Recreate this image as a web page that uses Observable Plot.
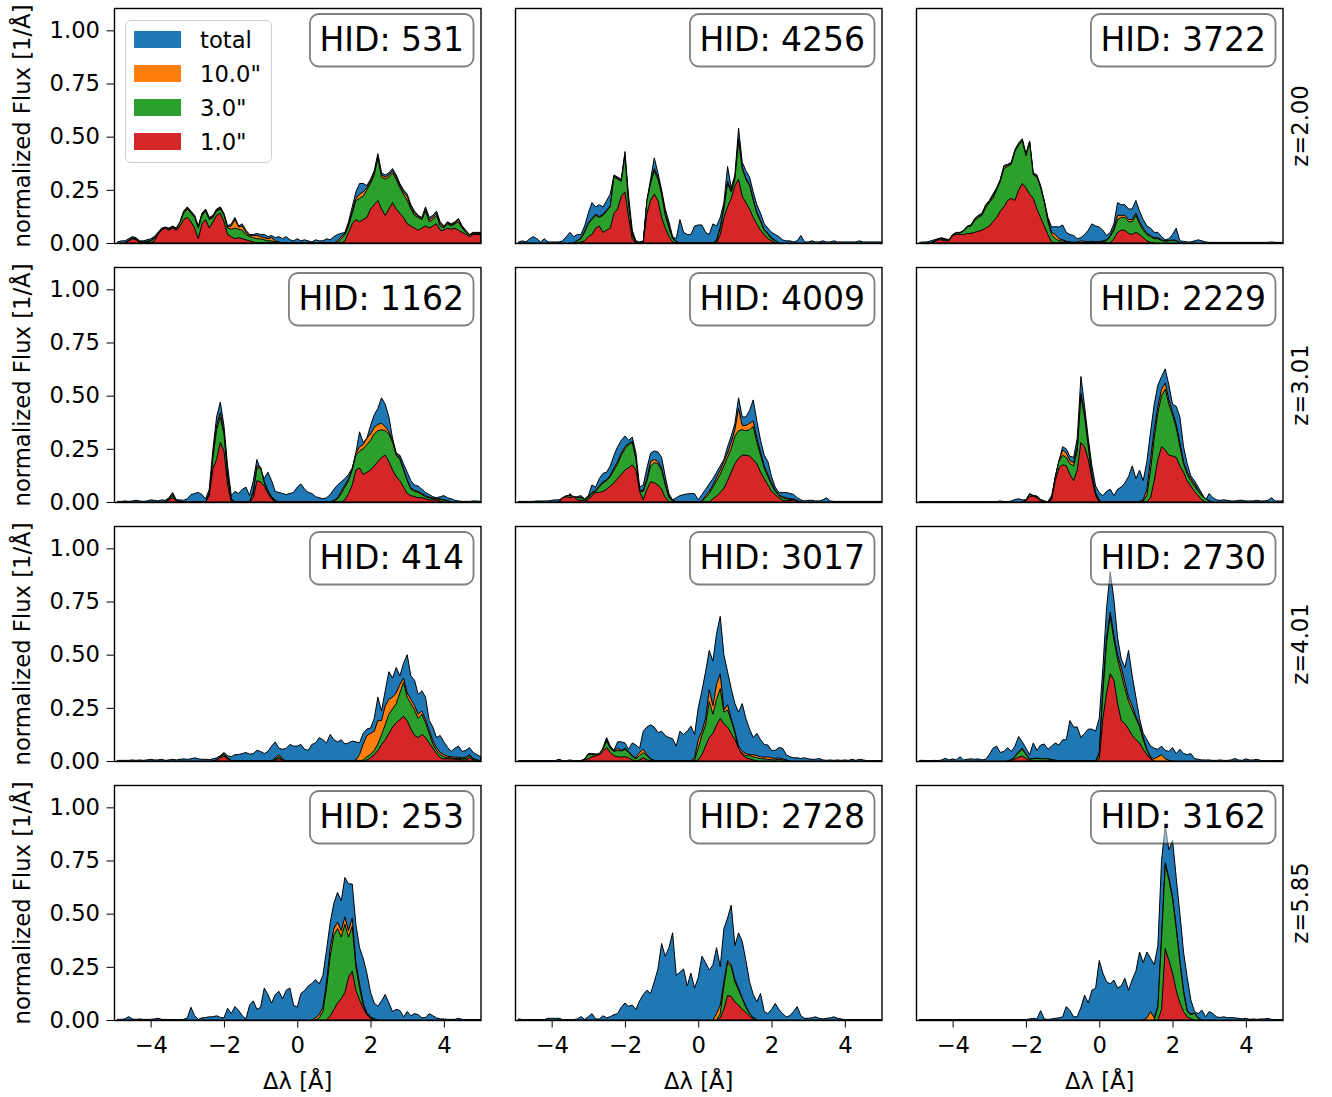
<!DOCTYPE html>
<html>
<head>
<meta charset="utf-8">
<script src="https://cdn.jsdelivr.net/npm/d3@7"></script>
<script src="https://cdn.jsdelivr.net/npm/@observablehq/plot@0.6"></script>
<style>
  html, body { margin: 0; padding: 0; background: #fff; }
  #fig { position: relative; width: 1332px; height: 1097px; overflow: hidden; font-family: "DejaVu Sans", sans-serif; }
  #fig svg { position: absolute; overflow: visible; }
  #legend { position: absolute; left: 125px; top: 20px; width: 147px; height: 143px; box-sizing: border-box;
            border: 1.5px solid #cfcfcf; border-radius: 6px; background: rgba(255,255,255,0.8); z-index: 5; }
  #legend .sw { position: absolute; left: 8px; width: 47px; height: 17px; }
  #legend .lb { position: absolute; left: 74px; font-size: 22.7px; line-height: 22.7px; color: #000; white-space: nowrap; }
</style>
</head>
<body>
<div id="fig"></div>
<script>
// ---------- chart constants ----------
const HIDS = [531, 4256, 3722, 1162, 4009, 2229, 414, 3017, 2730, 253, 2728, 3162];
const REDSHIFTS = ["z=2.00", "z=3.01", "z=4.01", "z=5.85"];
const APERTURES = ["total", "10.0\"", "3.0\"", "1.0\""];
const COLORS = ["#1f77b4", "#ff7f0e", "#2ca02c", "#d62728"];
const X_TICKS = [-4, -2, 0, 2, 4];
const Y_TICKS = [0, 0.25, 0.5, 0.75, 1.0];
const STEP = 0.1; // spectral sampling of every series, Å
// Each series = list of segments {from: first Δλ, y: flux values every STEP Å}; outside segments flux is 0.

// ---- HID 531 ----
const t531 = [{from: -4.9, y: [
 .005,.01,.01,.02,.03,.025,.01,.01,.015,.02,
 .03,.05,.07,.075,.07,.08,.07,.1,.15,.17,
 .15,.13,.08,.14,.16,.12,.13,.16,.17,.14,
 .08,.09,.12,.08,.09,.06,.04,.04,.045,.04,
 .04,.03,.035,.025,.03,.02,.03,.015,.01,.02,
 .01,.015,.01,.005,.015,.01,.01,.02,.015,.03,
 .04,.045,.05,.1,.17,.24,.28,.28,.27,.3,
 .34,.42,.33,.32,.33,.35,.32,.28,.25,.23,
 .18,.15,.13,.12,.17,.12,.13,.15,.1,.08,
 .1,.09,.1,.115,.08,.06,.04,.05,.05,.05]}];
const o531 = [{from: -4.7, y: [
 0,.014,.024,.02,.007,.004,.007,.012,.025,.047,.067,.072,.067,.077,.067,.097,.145,.165,.145,.125,
 .075,.135,.155,.115,.125,.155,.165,.135,.075,.08,.11,.075,.08,.05,.035,.035,.035,.03,.025,.02,
 .025,.01,.005,0]},
 {from: 1.0, y: [
 0,.01,.03,.045,.09,.15,.21,.23,.24,.26,.29,.33,.41,.32,.31,.32,.34,.31,.27,.24,
 .22,.17,.14,.125,.115,.16,.11,.12,.14,.09,.075,.095,.085,.095,.11,.075,.055,.038,.048,.048,.048]}];
const g531 = [{from: -4.7, y: [
 0,.012,.022,.018,.006,.003,.005,.01,.02,.045,.065,.07,.065,.075,.065,.095,.14,.16,.14,.12,
 .07,.13,.15,.11,.12,.15,.16,.13,.07,.065,.07,.065,.06,.04,.03,.025,.02,.02,.015,.01,
 .01,.005,0]},
 {from: 1.1, y: [
 0,.02,.04,.08,.14,.2,.21,.22,.25,.28,.32,.4,.31,.3,.31,.33,.3,.26,.23,.2,
 .16,.13,.12,.11,.15,.1,.11,.13,.08,.07,.09,.08,.09,.1,.07,.05,.035,.045,.045,.045]}];
const r531 = [{from: -4.7, y: [
 0,.01,.02,.015,.005,0,0,0,.01,.04,.06,.07,.06,.07,.06,.08,.11,.12,.1,.07,
 .02,.09,.11,.07,.1,.13,.14,.1,.04,.03,.02,.025,.02,.015,.01,.005,0]},
 {from: 1.2, y: [
 0,.01,.05,.09,.11,.1,.11,.12,.16,.18,.2,.16,.13,.16,.19,.16,.14,.12,.09,.08,
 .07,.06,.07,.08,.07,.08,.09,.06,.06,.07,.065,.07,.06,.05,.04,.03,.04,.04,.04]}];

// ---- HID 4256 ----
const t4256 = [{from: -4.9, y: [
 .005,.01,.005,.02,.03,.02,.005,.02,.005,.005,
 .005,.005,.01,.03,.05,.03,.04,.04,.08,.14,
 .19,.17,.18,.17,.2,.23,.32,.31,.3,.43,
 .22,.06,.01,.005,.01,.2,.3,.4,.33,.25,
 .16,.1,.03,.02,.11,.05,.04,.04,.08,.085,
 .085,.05,.04,.09,.08,.12,.19,.36,.26,.32,
 .54,.38,.34,.31,.24,.18,.14,.09,.07,.05,
 .04,.03,.015,.01,.01,.005,.01,.035,.005,.005,
 .01,.005,.005,.01,.005,.005,.01,.005,.005,.005,
 .005,.005,.005,.01,.005,.005,.005,.005,.005,.005]}];
const o4256 = [
 {from: -3.4, y: [0,.012,.025,.055,.095,.115,.135,.125,.135,.155,.175,.315,.305,.295,.415,.19,.045,0]},
 {from: -1.5, y: [0,.2,.285,.35,.31,.24,.14,.08,.025,.008,0]},
 {from: 0.4, y: [0,.015,.075,.165,.29,.245,.305,.49,.355,.305,.275,.205,.145,.105,.065,.045,.025,.012,0]}];
const g4256 = [
 {from: -3.4, y: [0,.01,.02,.05,.09,.11,.13,.12,.13,.15,.17,.31,.3,.29,.41,.18,.04,0]},
 {from: -1.5, y: [0,.2,.28,.34,.3,.23,.13,.07,.02,.005,0]},
 {from: 0.4, y: [0,.01,.07,.16,.28,.24,.3,.48,.35,.3,.27,.2,.14,.1,.06,.04,.02,.01,0]}];
const r4256 = [
 {from: -3.3, y: [0,.005,.01,.03,.04,.07,.08,.05,.06,.07,.14,.16,.22,.24,.12,.02,0]},
 {from: -1.5, y: [0,.14,.2,.23,.2,.12,.07,.03,.005,0]},
 {from: 0.5, y: [0,.04,.12,.17,.21,.27,.3,.22,.19,.16,.12,.09,.06,.04,.02,.01,0]}];

// ---- HID 3722 ----
const t3722 = [{from: -4.9, y: [
 .003,.005,.005,.01,.015,.02,.025,.02,.015,.04,
 .05,.05,.06,.08,.085,.115,.13,.14,.18,.2,
 .23,.26,.3,.365,.37,.38,.44,.47,.49,.42,
 .48,.33,.32,.27,.2,.12,.075,.077,.075,.085,
 .05,.04,.035,.02,.025,.04,.06,.09,.08,.075,
 .06,.035,.05,.09,.19,.18,.18,.16,.16,.2,
 .15,.11,.08,.07,.05,.05,.03,.015,.02,.04,
 .07,.01,.008,.005,.005,.01,.015,.01,.005,.003,
 .003,.003,.003,.003,.003,.003,.003,.003,.003,.003,
 .003,.003,.003,.003,.003,.003,.005,.003,.003,.003]}];
const o3722 = [{from: -4.6, y: [
 0,.008,.018,.022,.017,.013,.039,.048,.048,.057,.077,.082,.11,.125,.135,.175,.195,.22,.255,.295,
 .36,.365,.375,.435,.465,.485,.415,.475,.325,.315,.265,.195,.11,.05,.04,.02,.015,.008,.005,.003,
 .005,.01,.008,.005,.008,.006,.006,.01,.015,.035,.07,.13,.13,.13,.11,.11,.14,.1,.07,.045,
 .035,.025,.025,.015,.01,.012,.015,.012,0]}];
const g3722 = [{from: -4.6, y: [
 0,.008,.018,.02,.015,.012,.038,.047,.047,.055,.075,.08,.105,.12,.13,.165,.19,.21,.25,.29,
 .35,.36,.37,.43,.46,.48,.41,.47,.32,.31,.26,.19,.1,.04,.02,.01,.01,.005,.003,0,
 0,0,0,.003,.005,.005,.005,.008,.01,.03,.06,.11,.12,.12,.1,.1,.13,.09,.06,.04,
 .03,.02,.02,.012,.008,.01,.012,.01,0]}];
const r3722 = [
 {from: -4.6, y: [0,.005,.015,.015,.01,.01,.035,.04,.04,.04,.045,.045,.05,.055,.06,.07,.08,.1,.12,.15,
  .17,.2,.21,.2,.25,.28,.26,.23,.21,.16,.12,.08,.04,.005,0]},
 {from: 0.3, y: [0,.02,.05,.06,.06,.045,.04,.05,.04,.025,.01,.003,0]}];

// ---- HID 1162 ----
const t1162 = [{from: -4.9, y: [
 .003,.003,.005,.003,.005,.008,.005,.003,.005,.01,
 .008,.005,.01,.008,.02,.045,.01,.01,.008,.015,
 .035,.04,.045,.035,.015,.06,.25,.4,.47,.36,
 .17,.03,.05,.04,.06,.07,.03,.1,.2,.15,
 .11,.14,.1,.05,.045,.04,.035,.04,.045,.07,
 .085,.06,.045,.04,.025,.02,.015,.02,.035,.06,
 .08,.095,.11,.13,.16,.23,.33,.28,.3,.36,
 .41,.44,.49,.46,.4,.3,.23,.22,.18,.14,
 .1,.08,.075,.06,.045,.035,.025,.02,.025,.03,
 .02,.015,.008,.005,.003,.003,.003,.005,.005,.003]}];
const o1162 = [
 {from: -3.6, y: [0,.016,.035,.009,0]},
 {from: -2.5, y: [0,.045,.22,.36,.42,.33,.13,.015,0]},
 {from: -1.3, y: [0,.05,.17,.165,.095,.055,.025,.008,0]},
 {from: 0.9, y: [0,.008,.02,.05,.08,.11,.155,.23,.26,.27,.3,.32,.35,.365,.37,.355,.33,.29,.23,.205,
  .155,.105,.065,.055,.05,.04,.03,.022,.018,.017,.014,.012,.006,0]}];
const g1162 = [
 {from: -3.6, y: [0,.015,.03,.008,0]},
 {from: -2.5, y: [0,.04,.21,.34,.4,.32,.12,.01,0]},
 {from: -1.3, y: [0,.04,.16,.16,.09,.05,.02,.005,0]},
 {from: 0.9, y: [0,.005,.015,.04,.07,.1,.15,.22,.24,.25,.27,.29,.32,.335,.34,.335,.32,.28,.22,.2,
  .15,.1,.06,.05,.045,.035,.025,.02,.015,.015,.012,.01,.005,0]}];
const r1162 = [
 {from: -3.6, y: [0,.01,.02,.005,0]},
 {from: -2.5, y: [0,.03,.16,.2,.28,.24,.08,0]},
 {from: -1.3, y: [0,.02,.1,.095,.075,.04,.015,0]},
 {from: 1.2, y: [0,.01,.04,.08,.15,.16,.13,.14,.15,.17,.19,.21,.22,.19,.15,.12,.1,.07,.04,.03,
  .025,.02,.02,.015,.01,.01,.01,.005,0]}];

// ---- HID 4009 ----
const t4009 = [{from: -4.9, y: [
 .003,.003,.003,.003,.003,.005,.005,.005,.005,.008,
 .01,.01,.02,.01,.04,.02,.025,.03,.015,.03,
 .08,.07,.11,.135,.14,.17,.22,.26,.29,.31,
 .29,.305,.23,.07,.08,.16,.23,.24,.235,.21,
 .12,.04,.01,.02,.03,.035,.038,.04,.039,.01,
 .035,.06,.085,.11,.14,.17,.2,.26,.31,.37,
 .49,.4,.4,.43,.48,.38,.29,.22,.19,.12,
 .07,.045,.044,.045,.04,.036,.02,.01,.005,.008,
 .008,.005,.005,.01,.02,.005,.003,.003,.003,.003,
 .003,.003,.003,.003,.003,.003,.003,.003,.003,.003]}];
const o4009 = [
 {from: -3.8, y: [0,.02,.03,.032,.026,.022,.022,.012,.022,.045,.055,.075,.095,.105,.125,.16,.19,.23,.26,.275,
  .285,.205,.055,.055,.11,.19,.2,.19,.16,.085,.025,.008,.003,0]},
 {from: 0.0, y: [0,.005,.03,.05,.08,.115,.15,.19,.23,.28,.34,.44,.36,.36,.37,.38,.3,.235,.17,.13,
  .09,.055,.035,.025,.02,.015,.014,.006,0]}];
const g4009 = [
 {from: -3.8, y: [0,.02,.028,.03,.025,.02,.02,.01,.02,.04,.05,.07,.09,.1,.12,.15,.18,.22,.25,.27,
  .28,.2,.05,.05,.1,.17,.185,.18,.15,.08,.02,.005,0]},
 {from: 0.0, y: [0,.003,.02,.04,.07,.1,.13,.17,.21,.25,.31,.335,.34,.335,.34,.355,.28,.22,.16,.12,
  .08,.05,.03,.02,.015,.012,.012,.005,0]}];
const r4009 = [
 {from: -3.8, y: [0,.02,.025,.02,.025,.01,.008,.005,.01,.03,.045,.045,.05,.06,.075,.09,.11,.13,.15,.16,
  .175,.15,.05,.01,.06,.095,.09,.08,.06,.02,.003,0]},
 {from: 0.3, y: [0,.015,.028,.045,.065,.1,.14,.18,.205,.22,.22,.216,.2,.18,.14,.11,.08,.05,.035,.02,
  .008,.005,.008,.01,.003,0]}];

// ---- HID 2229 ----
const t2229 = [{from: -4.9, y: [
 .002,.002,.002,.002,.002,.002,.002,.002,.002,.002,
 .002,.002,.002,.002,.002,.002,.002,.002,.002,.002,
 .002,.002,.005,.002,.002,.005,.012,.015,.01,.01,
 .04,.03,.028,.012,.005,.002,.03,.11,.19,.26,
 .25,.215,.21,.3,.59,.45,.3,.17,.075,.044,
 .03,.05,.06,.03,.06,.07,.09,.12,.17,.11,
 .15,.1,.19,.33,.46,.55,.59,.626,.55,.46,
 .45,.4,.26,.18,.122,.1,.07,.04,.01,.04,
 .02,.01,.008,.01,.008,.005,.005,.008,.008,.005,
 .005,.005,.008,.005,.005,.008,.02,.005,.005,.005]}];
const o2229 = [
 {from: -2.1, y: [0,.009,.037,.03,.026,.011,.003,.001,.018,.12,.195,.245,.23,.195,.185,.26,.51,.41,.27,.13,
  .045,.008,0]},
 {from: 1.0, y: [0,.003,.01,.06,.2,.34,.45,.53,.56,.48,.425,.365,.28,.19,.14,.11,.085,.055,.033,.017,.006,0]}];
const g2229 = [
 {from: -2.1, y: [0,.008,.035,.03,.025,.01,.002,0,.015,.12,.19,.22,.21,.18,.17,.24,.5,.4,.26,.12,
  .04,.005,0]},
 {from: 1.1, y: [0,.005,.03,.15,.3,.42,.5,.53,.46,.41,.35,.26,.18,.13,.1,.075,.05,.03,.015,.005,0]}];
const r2229 = [
 {from: -2.1, y: [0,.005,.025,.028,.02,.005,0]},
 {from: -1.4, y: [0,.01,.1,.16,.175,.17,.13,.1,.15,.28,.26,.2,.11,.03,0]},
 {from: 1.3, y: [0,.02,.1,.2,.26,.245,.22,.216,.21,.17,.14,.1,.075,.05,.03,.01,0]}];

// ---- HID 414 ----
const t414 = [{from: -4.9, y: [
 .003,.003,.003,.003,.005,.003,.005,.003,.005,.008,
 .005,.005,.008,.003,.005,.008,.005,.008,.01,.008,
 .01,.015,.01,.008,.008,.006,.01,.015,.025,.04,
 .025,.02,.03,.03,.035,.04,.032,.035,.05,.045,
 .035,.045,.07,.09,.06,.055,.06,.078,.07,.07,
 .078,.055,.05,.078,.085,.11,.1,.085,.125,.1,
 .09,.1,.08,.085,.094,.09,.086,.13,.15,.155,
 .2,.3,.235,.33,.42,.39,.44,.4,.46,.5,
 .4,.38,.313,.33,.3,.19,.16,.11,.12,.09,
 .065,.045,.06,.07,.045,.05,.063,.04,.03,.02]}];
const o414 = [
 {from: -2.3, y: [0,.006,.022,.035,.015,.003,0]},
 {from: -0.7, y: [0,.015,.03,.008,0]},
 {from: 1.5, y: [0,.005,.03,.08,.12,.13,.14,.19,.19,.26,.29,.3,.32,.36,.39,.32,.29,.26,.22,.235,
  .195,.145,.095,.062,.04,.03,.022,.02,.018,.018,.015,.018,.03,.012,.006,0]}];
const g414 = [
 {from: -2.3, y: [0,.005,.02,.03,.012,.002,0]},
 {from: -0.7, y: [0,.01,.02,.005,0]},
 {from: 1.7, y: [0,.005,.02,.03,.05,.08,.125,.17,.22,.245,.27,.32,.37,.3,.27,.24,.2,.22,.18,.13,
  .08,.05,.03,.02,.015,.015,.012,.012,.01,.012,.025,.01,.005,0]}];
const r414 = [
 {from: -2.3, y: [0,.003,.015,.023,.01,0]},
 {from: -0.7, y: [0,.005,.012,.003,0]},
 {from: 1.8, y: [0,.005,.015,.03,.05,.078,.1,.13,.16,.18,.195,.21,.19,.15,.12,.11,.125,.11,.085,.06,
  .035,.015,.01,.01,.01,.008,.008,.005,.005,.015,.005,0]}];

// ---- HID 3017 ----
const t3017 = [{from: -4.9, y: [
 .002,.002,.002,.002,.002,.002,.002,.002,.002,.002,
 .002,.008,.002,.002,.005,.002,.002,.002,.01,.035,
 .035,.033,.03,.063,.11,.07,.05,.09,.09,.085,
 .055,.085,.075,.06,.14,.16,.17,.16,.133,.14,
 .12,.11,.105,.07,.14,.125,.14,.164,.125,.25,
 .33,.42,.52,.47,.6,.68,.5,.42,.34,.27,
 .23,.27,.2,.15,.11,.13,.1,.078,.075,.05,
 .05,.063,.06,.03,.02,.015,.015,.012,.015,.01,
 .008,.008,.012,.005,.003,.005,.003,.005,.003,.005,
 .003,.008,.003,.008,.005,.002,.002,.002,.002,.002]}];
const o3017 = [
 {from: -3.2, y: [0,.009,.032,.032,.031,.033,.058,.1,.064,.047,.06,.05,.06,.045,.025,.015,.04,.055,.03,.01,
  .003,0]},
 {from: -0.2, y: [0,.015,.1,.14,.2,.336,.26,.36,.41,.24,.265,.2,.14,.07,.045,.035,.03,.03,.025,.02,
  .018,.02,.015,.012,.015,.01,.005,0]}];
const g3017 = [
 {from: -3.2, y: [0,.008,.03,.03,.03,.035,.055,.094,.06,.045,.05,.047,.055,.04,.02,.01,.025,.04,.025,.008,
  .002,0]},
 {from: -0.2, y: [0,.005,.06,.12,.17,.28,.22,.29,.34,.23,.24,.19,.13,.055,.035,.025,.025,.02,.015,.012,
  .01,.008,.006,.005,.008,.005,.003,0]}];
const r3017 = [
 {from: -3.2, y: [0,.005,.01,.02,.025,.03,.045,.063,.04,.025,.02,.018,.02,.015,.005,0,.005,.015,.005,0]},
 {from: -0.1, y: [0,.005,.03,.07,.11,.13,.17,.2,.175,.16,.13,.1,.06,.03,.015,.01,.005,0]}];

// ---- HID 2730 ----
const t2730 = [{from: -4.9, y: [
 .003,.003,.002,.002,.003,.002,.005,.013,.005,.01,
 .005,.02,.005,.008,.01,.008,.01,.005,.008,.03,
 .06,.07,.04,.045,.063,.045,.07,.115,.09,.06,
 .03,.085,.05,.075,.08,.055,.07,.085,.075,.1,
 .1,.19,.16,.16,.11,.13,.15,.15,.14,.2,
 .44,.72,.89,.76,.58,.48,.44,.52,.4,.3,
 .2,.13,.1,.07,.06,.055,.07,.05,.045,.063,
 .035,.055,.035,.03,.035,.012,.008,.005,.005,.005,
 .003,.003,.005,.003,.003,.005,.012,.005,.003,.01,
 .005,.005,.008,.003,.002,.002,.002,.002,.002,.002]}];
const o2730 = [
 {from: -2.5, y: [0,.006,.022,.045,.06,.033,.01,.012,.014,.012,.012,.012,.006,.004,0]},
 {from: -0.1, y: [0,.04,.34,.58,.7,.59,.5,.44,.37,.3,.26,.21,.17,.11,.055,.02,.01,.02,.03,.01,.003,0]}];
const g2730 = [
 {from: -2.5, y: [0,.005,.02,.04,.055,.03,.008,.01,.012,.01,.01,.01,.005,.003,0]},
 {from: -0.1, y: [0,.03,.32,.56,.68,.57,.48,.41,.34,.28,.24,.2,.16,.1,.05,.015,0]}];
const r2730 = [
 {from: -2.5, y: [0,.003,.01,.018,.023,.012,.003,0]},
 {from: -0.1, y: [0,.01,.2,.32,.41,.38,.27,.19,.175,.15,.12,.1,.085,.055,.03,.01,0]}];

// ---- HID 253 ----
const t253 = [{from: -4.9, y: [
 .003,.003,.005,.016,.005,.003,.005,.003,.003,.003,
 .005,.008,.003,.003,.002,.002,.002,.002,.003,.01,
 .06,.02,.003,.01,.012,.015,.015,.02,.012,.01,
 .055,.03,.063,.045,.02,.005,.07,.09,.05,.06,
 .15,.12,.08,.12,.135,.1,.14,.15,.07,.06,
 .125,.138,.16,.172,.19,.17,.21,.33,.46,.55,
 .6,.56,.67,.64,.64,.45,.34,.29,.22,.13,
 .08,.065,.09,.12,.08,.04,.05,.045,.015,.04,
 .02,.03,.025,.01,.012,.03,.02,.01,.005,.005,
 .003,.003,.003,.008,.003,.002,.002,.002,.002,.002]}];
const o253 = [{from: 0.4, y: [0,.01,.025,.06,.18,.34,.43,.46,.42,.485,.42,.48,.27,.17,.08,.035,.015,.006,0]}];
const g253 = [{from: 0.5, y: [0,.01,.04,.15,.3,.4,.43,.39,.45,.39,.44,.25,.15,.07,.03,.012,.005,0]}];
const r253 = [{from: 0.8, y: [0,.02,.05,.08,.1,.13,.2,.23,.14,.094,.055,.025,.008,0]}];

// ---- HID 2728 ----
const t2728 = [{from: -4.9, y: [
 .005,.002,.002,.002,.002,.002,.002,.002,.008,.008,
 .008,.008,.002,.002,.002,.002,.005,.016,.003,.015,
 .03,.005,.005,.02,.01,.016,.025,.03,.06,.08,
 .065,.07,.05,.09,.12,.14,.125,.18,.24,.36,
 .3,.34,.41,.21,.225,.24,.16,.22,.15,.2,
 .3,.27,.235,.26,.34,.25,.43,.48,.54,.35,
 .41,.37,.28,.18,.12,.086,.125,.04,.03,.05,
 .078,.05,.03,.015,.02,.04,.063,.02,.008,.008,
 .01,.015,.008,.005,.008,.01,.015,.008,.005,.002,
 .002,.002,.002,.002,.002,.002,.002,.002,.002,.002]}];
const o2728 = [{from: 0.4, y: [0,.03,.07,.18,.28,.26,.19,.15,.105,.065,.032,.012,0]}];
const g2728 = [{from: 0.5, y: [0,.03,.16,.27,.25,.18,.14,.1,.06,.03,.01,0]}];
const r2728 = [{from: 0.5, y: [0,.01,.05,.115,.11,.085,.07,.05,.035,.02,.005,0]}];

// ---- HID 3162 ----
const t3162 = [{from: -4.9, y: [
 .002,.002,.002,.002,.002,.002,.002,.002,.002,.002,
 .002,.002,.002,.002,.002,.002,.002,.002,.002,.002,
 .002,.002,.002,.002,.002,.002,.002,.002,.002,.002,
 .005,.008,.005,.044,.005,.003,.005,.008,.01,.015,
 .063,.045,.015,.015,.06,.117,.08,.14,.149,.28,
 .22,.18,.17,.188,.15,.16,.196,.14,.19,.23,
 .32,.27,.32,.29,.26,.35,.75,.915,.8,.845,
 .67,.5,.32,.2,.094,.04,.03,.047,.015,.04,
 .03,.015,.012,.015,.01,.012,.01,.008,.005,.008,
 .003,.005,.003,.005,.005,.008,.003,.002,.002,.002]}];
const o3162 = [{from: 1.2, y: [0,.01,.04,.01,.065,.39,.74,.67,.58,.44,.28,.14,.045,.028,.033,.01,0]}];
const g3162 = [{from: 1.5, y: [0,.06,.38,.73,.66,.57,.43,.27,.13,.04,.025,.03,.008,0]}];
const r3162 = [{from: 1.6, y: [0,.05,.336,.28,.22,.14,.08,.04,.015,.005,0]}];

// series per halo, in drawing order: total, 10", 3", 1"
const SERIES = {
  531: [t531, o531, g531, r531], 4256: [t4256, o4256, g4256, r4256], 3722: [t3722, o3722, g3722, r3722],
  1162: [t1162, o1162, g1162, r1162], 4009: [t4009, o4009, g4009, r4009], 2229: [t2229, o2229, g2229, r2229],
  414: [t414, o414, g414, r414], 3017: [t3017, o3017, g3017, r3017], 2730: [t2730, o2730, g2730, r2730],
  253: [t253, o253, g253, r253], 2728: [t2728, o2728, g2728, r2728], 3162: [t3162, o3162, g3162, r3162]
};

function toRows(segs) {
  const rows = [];
  for (const s of segs) s.y.forEach((v, i) => rows.push({x: Math.round((s.from + i * STEP) * 100) / 100, y: v}));
  return rows;
}

// ---------- layout ----------
const fig = document.getElementById("fig");
const PANEL_LEFT = [114, 514.5, 916];
const PANEL_TOP = [8, 267, 525.5, 784.5];
const PW = 366.5, PH = 235;
const FONT = "DejaVu Sans";
const svgNS = "http://www.w3.org/2000/svg";

HIDS.forEach((hid, i) => {
  const r = Math.floor(i / 3), c = i % 3;
  const ml = c === 0 ? 114 : 6, mr = c === 2 ? 50 : 6, mt = 6, mb = r === 3 ? 76 : 6;
  const label = `HID: ${hid}`;
  const marks = SERIES[hid].map((segs, k) =>
    Plot.areaY(toRows(segs), {x: "x", y: "y", fill: COLORS[k], stroke: "black", strokeWidth: 1, strokeLinejoin: "round"}));
  marks.push(Plot.frame({stroke: "black", strokeWidth: 1.4}));
  if (c === 0) marks.push(Plot.text(["normalized Flux [1/Å]"], {text: d => d, frameAnchor: "left", rotate: -90, dx: -92,
    textAnchor: "middle", lineAnchor: "middle", fontSize: 22.7, fill: "black"}));
  if (c === 2) marks.push(Plot.text([REDSHIFTS[r]], {text: d => d, frameAnchor: "right", rotate: -90, dx: 18,
    textAnchor: "middle", lineAnchor: "middle", fontSize: 22.7, fill: "black"}));
  if (r === 3) marks.push(Plot.text(["Δλ [Å]"], {text: d => d, frameAnchor: "bottom", dy: 61,
    textAnchor: "middle", lineAnchor: "middle", fontSize: 22.7, fill: "black"}));
  marks.push(Plot.text([label], {text: d => d, frameAnchor: "top-right", dx: -17, dy: 42,
    textAnchor: "end", lineAnchor: "bottom", fontSize: 33, fill: "black"}));

  const svg = Plot.plot({
    width: PW + ml + mr, height: PH + mt + mb,
    marginLeft: ml, marginRight: mr, marginTop: mt, marginBottom: mb,
    style: {fontFamily: FONT, fontSize: "22.7px", color: "black", background: "transparent", overflow: "visible"},
    x: {domain: [-5, 5], axis: r === 3 ? "bottom" : null, ticks: X_TICKS, tickSize: 7.5, tickPadding: 9, label: null},
    y: {domain: [0, 1.105], axis: c === 0 ? "left" : null, ticks: Y_TICKS, tickFormat: d3.format(".2f"),
        tickSize: 7.5, tickPadding: 7, label: null},
    marks
  });
  svg.style.left = (PANEL_LEFT[c] - ml) + "px";
  svg.style.top = (PANEL_TOP[r] - mt) + "px";
  fig.appendChild(svg);

  // rounded, half-transparent box behind the HID label (sized from the rendered text)
  const texts = Array.from(svg.querySelectorAll("text")).filter(t => t.textContent === label);
  texts.forEach(t => {
    const b = t.getBBox();
    const rect = document.createElementNS(svgNS, "rect");
    rect.setAttribute("x", b.x - 9.5);
    rect.setAttribute("y", b.y - 5.5);
    rect.setAttribute("width", b.width + 19);
    rect.setAttribute("height", b.height + 13.5);
    rect.setAttribute("rx", 9);
    rect.setAttribute("ry", 9);
    rect.setAttribute("style", "fill:#ffffff;fill-opacity:0.5;stroke:#000000;stroke-opacity:0.5;stroke-width:1.8px");
    const tr = t.getAttribute("transform");
    if (tr) rect.setAttribute("transform", tr);
    t.parentNode.insertBefore(rect, t);
  });
});

// ---------- legend (in the first panel) ----------
const legend = document.createElement("div");
legend.id = "legend";
APERTURES.forEach((name, k) => {
  const sw = document.createElement("div");
  sw.className = "sw";
  sw.style.top = (10 + 34 * k) + "px";
  sw.style.background = COLORS[k];
  const lb = document.createElement("div");
  lb.className = "lb";
  lb.style.top = (7.5 + 34 * k) + "px";
  lb.textContent = name;
  legend.appendChild(sw);
  legend.appendChild(lb);
});
fig.appendChild(legend);
</script>
</body>
</html>
